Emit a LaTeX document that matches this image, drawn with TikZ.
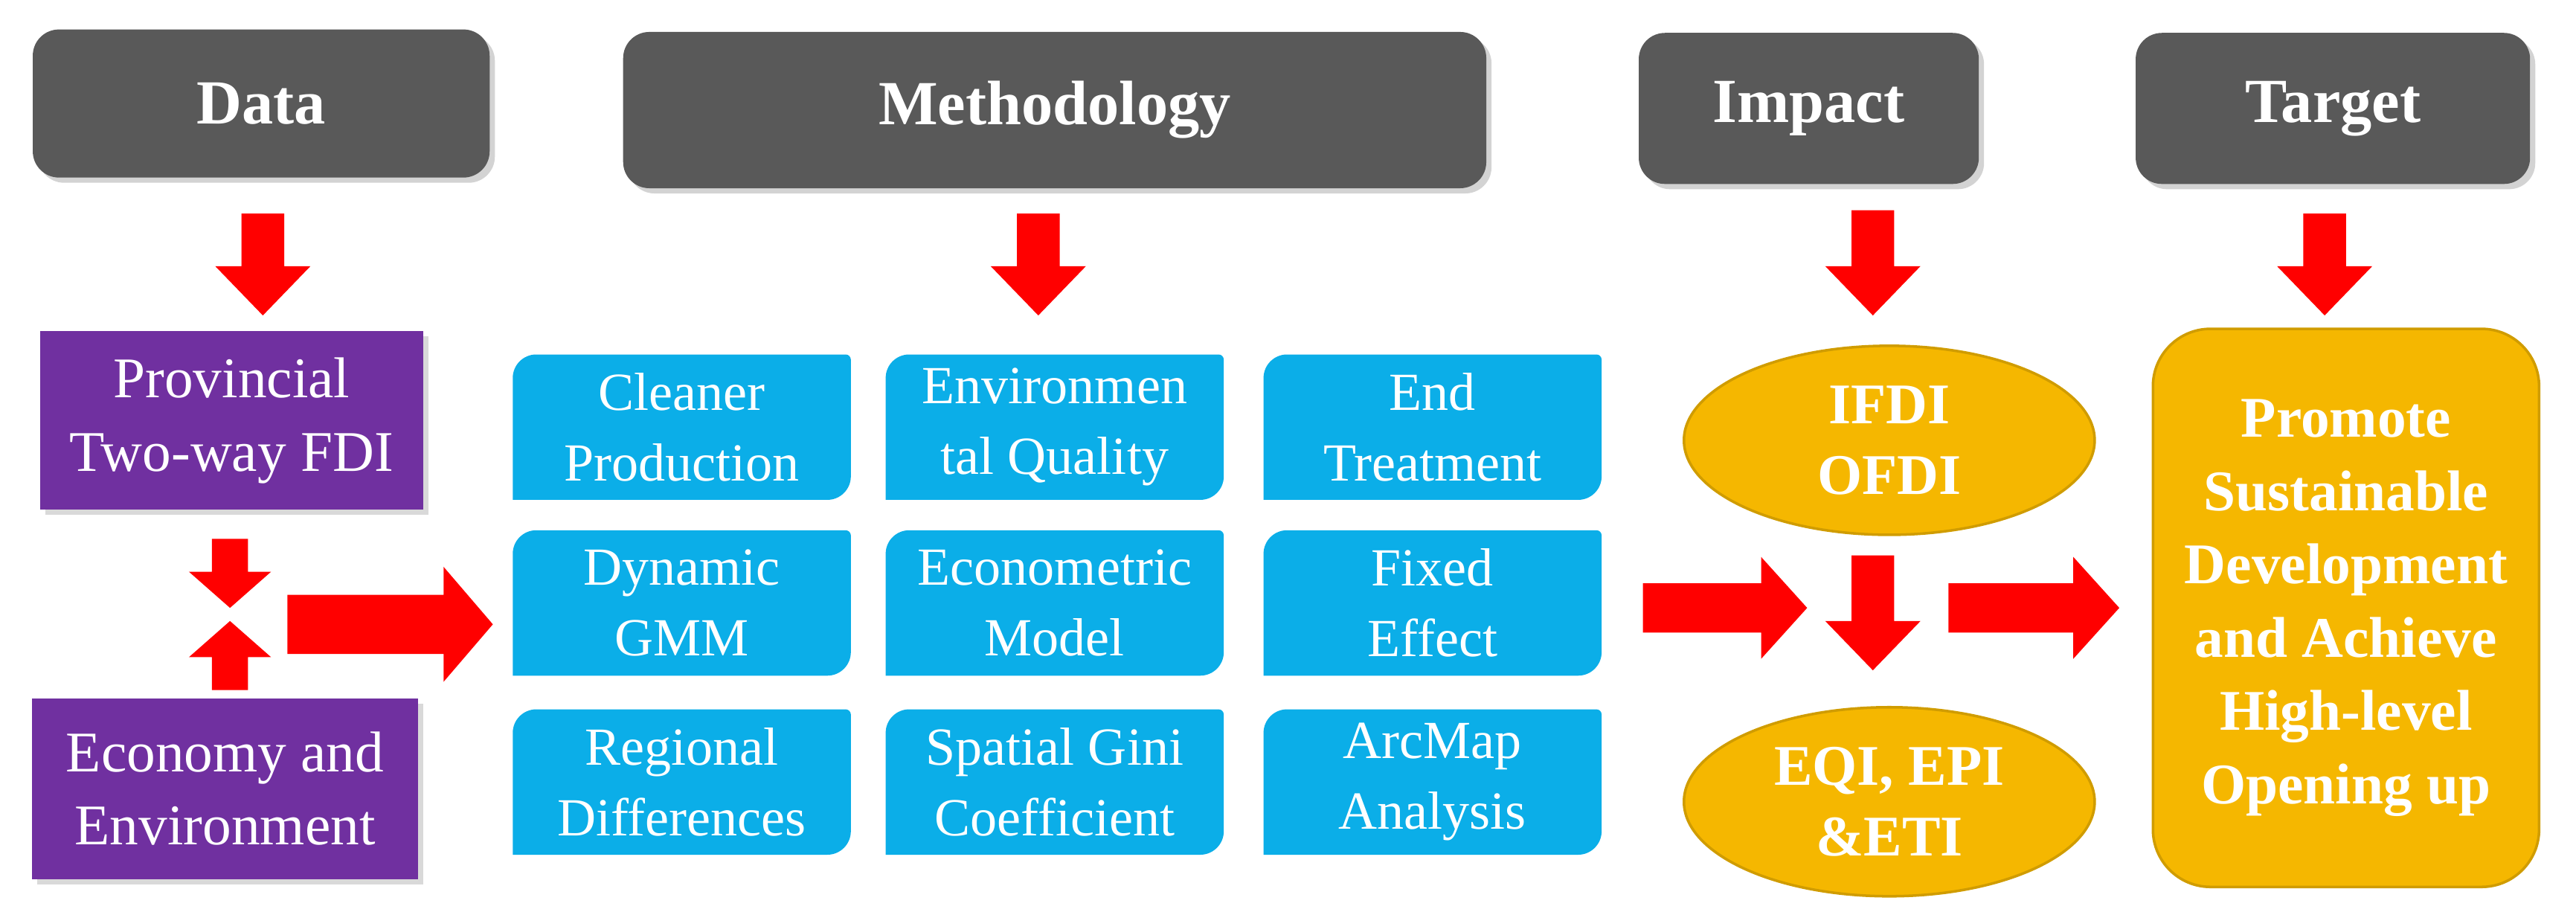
\documentclass[tikz,border=0pt]{standalone}
\usepackage{fontspec}
\setmainfont{Liberation Serif}
\usetikzlibrary{shapes.geometric,shadows}
\definecolor{hdr}{HTML}{595959}
\definecolor{pur}{HTML}{7030A0}
\definecolor{blu}{HTML}{0BAEE8}
\definecolor{gold}{HTML}{F5B700}
\definecolor{arr}{HTML}{FF0000}
\newcommand\blockarr[7]{\fill[arr,shift={(#1,#2)},rotate=#3] (0,-#5/2) -- (#4-#7,-#5/2) -- (#4-#7,-#6/2) -- (#4,0) -- (#4-#7,#6/2) -- (#4-#7,#5/2) -- (0,#5/2) -- cycle;}
\newcommand\bluebox[4]{%
  \node[bb] (#1) at (#2,#3) {};
  \fill[blu] (#1.west) [rounded corners=9pt] |- (#1.north) [rounded corners=2pt] -| (#1.east) [rounded corners=9pt] |- (#1.south) [sharp corners] -| (#1.west) -- cycle;
  \node[bt] at (#1) {#4};}
\begin{document}
\begin{tikzpicture}[x=0.022085cm,y=-0.022085cm,
  hd/.style={fill=hdr,rounded corners=10pt,text=white,font=\fontsize{24}{28}\selectfont\bfseries,drop shadow={opacity=0.35,shadow xshift=2pt,shadow yshift=-2pt}},
  pb/.style={fill=pur,text=white,align=center,font=\fontsize{22}{28}\selectfont,minimum width=5.15cm,minimum height=2.4cm,drop shadow={opacity=0.3,shadow xshift=2pt,shadow yshift=-2pt}},
  bb/.style={minimum width=4.53cm,minimum height=1.94cm,inner sep=0pt},
  bt/.style={text=white,align=center,font=\fontsize{20.5}{27}\selectfont},
  el/.style={ellipse,fill=gold,draw=gold!85!black,line width=1pt,text=white,align=center,font=\fontsize{22}{27}\selectfont\bfseries,minimum width=5.52cm,minimum height=2.54cm}]
\useasboundingbox (0,0) rectangle (1568,555);
\node[hd,minimum width=6.14cm,minimum height=1.99cm] (h1) at (159,63) {Data};
\node[hd,minimum width=11.6cm,minimum height=2.1cm] (h2) at (642,67) {Methodology};
\node[hd,minimum width=4.57cm,minimum height=2.03cm] (h3) at (1101,66) {Impact};
\node[hd,minimum width=5.3cm,minimum height=2.03cm] (h4) at (1420,66) {Target};
\blockarr{160}{130}{-90}{62}{26}{58}{30}
\blockarr{632}{130}{-90}{62}{26}{58}{30}
\blockarr{1140}{128}{-90}{64}{26}{58}{30}
\blockarr{1415}{130}{-90}{62}{26}{58}{30}
\node[pb] (p1) at (141,256) {Provincial\\Two-way FDI};
\node[pb,minimum width=5.19cm,minimum height=2.43cm] (p2) at (137,480) {Economy and\\Environment};
\blockarr{140}{328}{-90}{42}{22}{50}{22}
\blockarr{140}{420}{90}{42}{22}{50}{22}
\blockarr{175}{380}{0}{125}{36}{70}{30}
\bluebox{b11}{415}{260}{Cleaner\\Production}
\bluebox{b12}{642}{260}{Environmen\\tal Quality}
\bluebox{b13}{872}{260}{End\\Treatment}
\bluebox{b21}{415}{367}{Dynamic\\GMM}
\bluebox{b22}{642}{367}{Econometric\\Model}
\bluebox{b23}{872}{367}{Fixed\\Effect}
\bluebox{b31}{415}{476}{Regional\\Differences}
\bluebox{b32}{642}{476}{Spatial Gini\\Coefficient}
\bluebox{b33}{872}{476}{ArcMap\\Analysis}
\node[el] (e1) at (1150,268) {IFDI\\OFDI};
\node[el] (e2) at (1150,488) {EQI, EPI\\\&ETI};
\blockarr{1000}{370}{0}{100}{30}{62}{28}
\blockarr{1140}{338}{-90}{70}{26}{58}{30}
\blockarr{1186}{370}{0}{104}{30}{62}{28}
\node[fill=gold,draw=gold!85!black,line width=1pt,rounded corners=22pt,text=white,align=center,font=\fontsize{22}{28}\selectfont\bfseries,minimum width=5.19cm,minimum height=7.5cm] (t) at (1428,370) {Promote\\Sustainable\\Development\\and Achieve\\High-level\\Opening up};
\end{tikzpicture}
\end{document}
